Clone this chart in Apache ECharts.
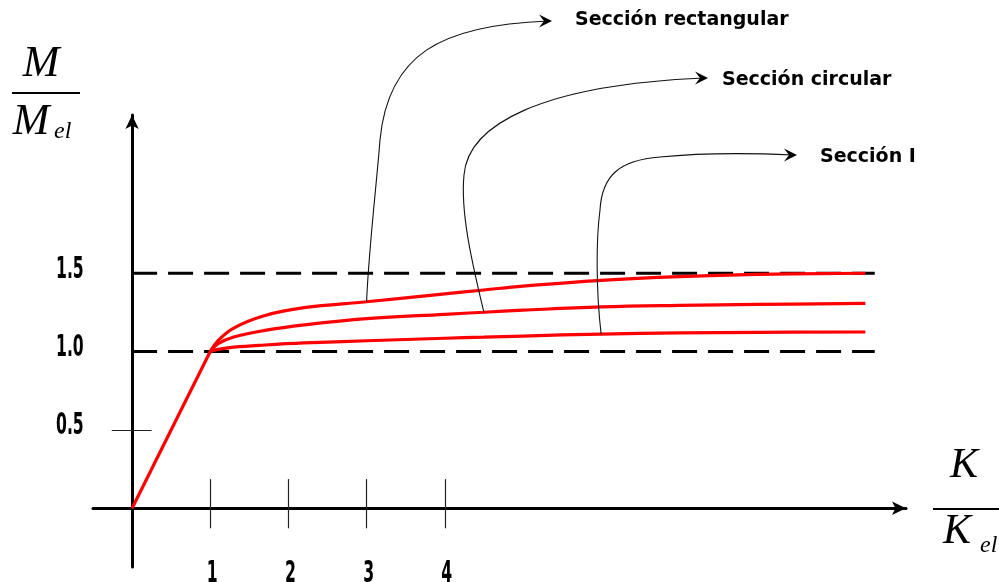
<!DOCTYPE html>
<html>
<head>
<meta charset="utf-8">
<script src="https://cdn.jsdelivr.net/npm/echarts@6/dist/echarts.min.js"></script>
<style>
  html, body { margin: 0; padding: 0; background: #fff; }
  #chart { width: 999px; height: 582px; }
</style>
</head>
<body>
<div id="chart"></div>
<script>
// Moment–curvature diagram M/Mel vs K/Kel for three cross sections

// Elastic branch (common to all sections)
const elasticK = [0, 1];
const elasticM = [0, 1];

// Plastic branch: curvature ratio and moment ratio per section
const kVals      = [1, 1.1, 1.3, 1.7, 2.2, 3, 4, 4.5, 5, 6, 7, 8, 9.38];
const rectVals   = [1, 1.07, 1.15, 1.23, 1.28, 1.318, 1.368, 1.393, 1.418, 1.455, 1.479, 1.493, 1.5];
const circVals   = [1, 1.05, 1.093, 1.135, 1.17, 1.21, 1.238, 1.251, 1.264, 1.285, 1.295, 1.301, 1.308];
const iVals      = [1, 1.014, 1.028, 1.042, 1.055, 1.069, 1.085, 1.092, 1.099, 1.112, 1.119, 1.123, 1.125];

// Reference levels (dashed) and their extent
const refLevels = [1.0, 1.5];
const refExtent = [0, 9.5];

// Axis ticks and labels
const xTickVals = [1, 2, 3, 4];
const xTickLabels = ['1', '2', '3', '4'];
const yTickVals = [0.5, 1.0, 1.5];
const yTickLabels = ['0.5', '1.0', '1.5'];
const yMarkedTick = [0.5];

// Section names and the curvature where each leader leaves its curve
const sectionNames = ['Sección rectangular', 'Sección circular', 'Sección I'];
const leaderK = [3, 4.5, 6];

const zip = (xs, ys) => xs.map((x, i) => [x, ys[i]]);
const numFont = "'DejaVu Sans Condensed', 'DejaVu Sans', sans-serif";
const serif = "'Liberation Serif', 'DejaVu Serif', serif";
const annFont = "'DejaVu Sans', sans-serif";

const chart = echarts.init(document.getElementById('chart'), null, { renderer: 'canvas' });

const red = '#ff0000';
const curveStyle = { color: red, width: 3.2 };

const series = [
  {
    name: 'elastic', type: 'line', data: zip(elasticK, elasticM),
    symbol: 'none', lineStyle: curveStyle, z: 5, silent: true,
    markLine: {
      silent: true, symbol: ['none', 'none'], label: { show: false },
      lineStyle: { type: 'solid', color: '#222', width: 1.2 },
      emphasis: { disabled: true },
      data: xTickVals.map(v => [{ coord: [v, -0.128] }, { coord: [v, 0.186] }])
        .concat(yMarkedTick.map(v => [{ coord: [-0.26, v] }, { coord: [0.25, v] }]))
    }
  },
  { name: 'rect', type: 'line', data: zip(kVals, rectVals), smooth: 0.4,
    symbol: 'none', lineStyle: curveStyle, z: 5, silent: true },
  { name: 'circ', type: 'line', data: zip(kVals, circVals), smooth: 0.4,
    symbol: 'none', lineStyle: curveStyle, z: 5, silent: true },
  { name: 'I', type: 'line', data: zip(kVals, iVals), smooth: 0.4,
    symbol: 'none', lineStyle: curveStyle, z: 5, silent: true }
];

refLevels.forEach(lv => {
  series.push({
    name: 'ref' + lv, type: 'line', data: refExtent.map(x => [x, lv]),
    symbol: 'none', silent: true, z: 3,
    lineStyle: { color: '#000', width: 3, type: [25, 11] }
  });
});

chart.setOption({
  animation: false,
  backgroundColor: '#fff',
  grid: { left: 93, right: 93, top: 115, bottom: 15, containLabel: false, outerBoundsMode: 'none' },
  xAxis: {
    type: 'value', min: -0.5, max: 9.9,
    splitLine: { show: false },
    axisLine: { onZero: true, lineStyle: { color: '#000', width: 3 },
                symbol: ['none', 'arrow'], symbolSize: [10, 14] },
    axisTick: { show: false },
    axisLabel: { show: false }
  },
  yAxis: {
    type: 'value', min: -0.375, max: 2.51,
    splitLine: { show: false },
    axisLine: { onZero: true, lineStyle: { color: '#000', width: 3 },
                symbol: ['none', 'arrow'], symbolSize: [10, 14] },
    axisTick: { show: false },
    axisLabel: { show: false }
  },
  series: series
});

const toPx = p => chart.convertToPixel({ gridIndex: 0 }, p);
const graphic = [];

// Tick labels in a narrow, tall bold face
const narrow = 0.58;
yTickVals.forEach((v, i) => {
  const p = toPx([0, v]);
  graphic.push({
    type: 'text', silent: true, x: 56, y: p[1] - 3.5, scaleX: narrow,
    style: { text: yTickLabels[i], x: 0, y: 0, font: `bold 30px ${numFont}`, fill: '#000',
             textAlign: 'left', textVerticalAlign: 'middle' }
  });
});
xTickVals.forEach((v, i) => {
  const p = toPx([v, 0]);
  graphic.push({
    type: 'text', silent: true, x: p[0] + 2, y: p[1] + 66, scaleX: narrow,
    style: { text: xTickLabels[i], x: 0, y: 0, font: `bold 30px ${numFont}`, fill: '#000',
             textAlign: 'center', textVerticalAlign: 'middle' }
  });
});

// Leader lines from each curve to its section name
const sectionData = [rectVals, circVals, iVals];
const anchors = leaderK.map((k, i) => toPx([k, sectionData[i][kVals.indexOf(k)]]));

const tips = [[552, 21], [708, 78], [797, 155]];
// each leader: list of cubic segments [x1,y1, c1x,c1y, c2x,c2y, x2,y2]
const leaders = [
  [
    [anchors[0][0], anchors[0][1], anchors[0][0] + 2, 250, 377, 180, 380, 140],
    [380, 140, 388, 55, 440, 25, tips[0][0] - 4, tips[0][1]]
  ],
  [
    [anchors[1][0], anchors[1][1], 474, 270, 460, 215, 464, 175],
    [464, 175, 468, 125, 540, 85, tips[1][0] - 4, tips[1][1]]
  ],
  [
    [anchors[2][0], anchors[2][1], 596, 290, 596, 240, 600, 210],
    [600, 210, 602, 175, 620, 160, 660, 157],
    [660, 157, 700, 153, 750, 153, tips[2][0] - 4, tips[2][1]]
  ]
];
const labelPos = [[575, 20], [722, 80], [820, 157]];

leaders.forEach((segs, i) => {
  segs.forEach(s => {
    graphic.push({
      type: 'bezierCurve', silent: true, z: 10,
      shape: { x1: s[0], y1: s[1], cpx1: s[2], cpy1: s[3], cpx2: s[4], cpy2: s[5], x2: s[6], y2: s[7] },
      style: { fill: 'none', stroke: '#111', lineWidth: 1.1 }
    });
  });
  const [tx, ty] = tips[i];
  graphic.push({
    type: 'polygon', silent: true, z: 11,
    shape: { points: [[tx, ty], [tx - 13, ty - 6.5], [tx - 8, ty], [tx - 13, ty + 6.5]] },
    style: { fill: '#000' }
  });
  graphic.push({
    type: 'text', silent: true, z: 11,
    style: { text: sectionNames[i], x: labelPos[i][0], y: labelPos[i][1],
             font: `bold 19px ${annFont}`, fill: '#000', textAlign: 'left', textVerticalAlign: 'middle' }
  });
});

// Axis titles as fractions
graphic.push(
  { type: 'text', silent: true, style: { text: 'M', x: 41, y: 64, font: `italic 44px ${serif}`, fill: '#000', textAlign: 'center', textVerticalAlign: 'middle' } },
  { type: 'line', silent: true, shape: { x1: 12, y1: 93, x2: 80, y2: 93 }, style: { stroke: '#000', lineWidth: 2 } },
  { type: 'text', silent: true, style: { text: 'M', x: 31, y: 122, font: `italic 44px ${serif}`, fill: '#000', textAlign: 'center', textVerticalAlign: 'middle' } },
  { type: 'text', silent: true, style: { text: 'el', x: 54, y: 132, font: `italic 24px ${serif}`, fill: '#000', textAlign: 'left', textVerticalAlign: 'middle' } },

  { type: 'text', silent: true, style: { text: 'K', x: 964, y: 466, font: `italic 42px ${serif}`, fill: '#000', textAlign: 'center', textVerticalAlign: 'middle' } },
  { type: 'line', silent: true, shape: { x1: 933, y1: 509, x2: 999, y2: 509 }, style: { stroke: '#000', lineWidth: 2 } },
  { type: 'text', silent: true, style: { text: 'K', x: 957, y: 532, font: `italic 42px ${serif}`, fill: '#000', textAlign: 'center', textVerticalAlign: 'middle' } },
  { type: 'text', silent: true, style: { text: 'el', x: 980, y: 546, font: `italic 24px ${serif}`, fill: '#000', textAlign: 'left', textVerticalAlign: 'middle' } }
);

chart.setOption({ graphic: graphic });
</script>
</body>
</html>
